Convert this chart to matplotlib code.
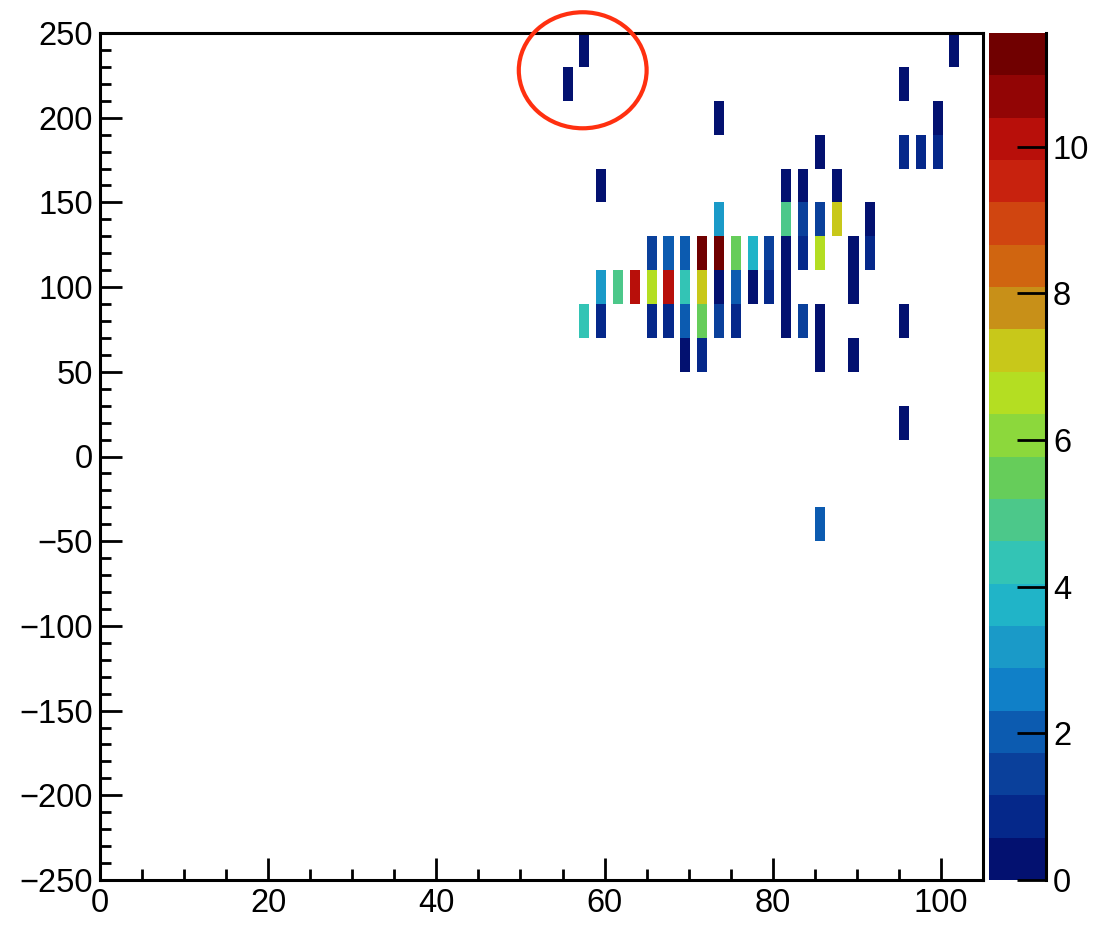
import numpy as np
import matplotlib
matplotlib.use("Agg")
import matplotlib.pyplot as plt
from matplotlib.colors import ListedColormap, BoundaryNorm
from matplotlib.patches import Ellipse
import matplotlib.cm as cm

plt.rcParams['font.family'] = ['Liberation Sans', 'DejaVu Sans']

# ---- data: (bin left x, bin low y, content) ----
x_left = [55, 57, 57, 59, 59, 59, 61, 63,
          65, 65, 65, 67, 67, 67, 69, 69, 69, 69,
          71, 71, 71, 71, 73, 73, 73, 73, 73,
          75, 75, 75, 77, 77, 79, 79,
          81, 81, 81, 81, 81, 83, 83, 83, 83,
          85, 85, 85, 85, 85, 85, 87, 87,
          89, 89, 89, 91, 91,
          95, 95, 95, 95, 97, 99, 99, 101]
y_low = [210, 230, 70, 150, 90, 70, 90, 90,
         110, 90, 70, 110, 90, 70, 110, 90, 70, 50,
         110, 90, 70, 50, 190, 130, 110, 90, 70,
         110, 90, 70, 110, 90, 110, 90,
         150, 130, 110, 90, 70, 150, 130, 110, 70,
         170, 130, 110, 70, 50, -50, 150, 130,
         110, 90, 50, 130, 110,
         210, 170, 70, 10, 170, 190, 170, 230]
content = [0.4, 0.4, 4.3, 0.4, 3.2, 1.0, 4.9, 10.1,
           1.5, 6.6, 1.0, 2.0, 10.1, 1.0, 2.0, 4.3, 2.0, 0.4,
           11.2, 7.2, 5.5, 1.0, 0.4, 3.2, 11.2, 0.4, 1.5,
           5.5, 2.0, 1.0, 3.8, 0.4, 1.5, 1.0,
           0.4, 4.9, 0.4, 0.4, 0.4, 0.4, 1.5, 1.0, 1.5,
           0.4, 1.5, 6.6, 0.4, 0.4, 2.0, 0.4, 7.2,
           0.4, 0.4, 0.4, 0.4, 1.0,
           0.4, 1.0, 0.4, 0.4, 1.0, 0.4, 1.0, 0.4]

palette = ['#031170', '#05288a', '#0a409b', '#0c5bb0', '#1080c8',
           '#1a9ac8', '#20b4c8', '#33c4b5', '#4cc88a', '#66cd5a',
           '#8cd83c', '#b4de22', '#c8c81a', '#c89018', '#d06510',
           '#d04510', '#c8220e', '#b80f0a', '#920505', '#700000']
z_max = 11.55
x_range = (0, 105)
y_range = (-250, 250)
bin_w = 1.2
bin_h = 20

cmap = ListedColormap(palette)
norm = BoundaryNorm(np.linspace(0, z_max, len(palette) + 1), len(palette))

fig = plt.figure(figsize=(10.99, 9.32), dpi=100)
ax = fig.add_axes([100 / 1099, 52 / 932, 883 / 1099, 847 / 932])
cax = fig.add_axes([989 / 1099, 52 / 932, 57 / 1099, 847 / 932])

colors = [cmap(norm(v)) for v in content]
ax.bar(x_left, bin_h, width=bin_w, bottom=y_low, align='edge',
       color=colors, linewidth=0)

ax.set_xlim(*x_range)
ax.set_ylim(*y_range)
ax.set_xticks(np.arange(0, 101, 20))
ax.set_xticks(np.arange(0, 106, 5), minor=True)
ax.set_yticks(np.arange(-250, 251, 50))
ax.set_yticks(np.arange(-250, 251, 10), minor=True)
ax.tick_params(which='both', direction='in', top=False, right=False,
               labelsize=23.5, width=2, color='black')
ax.tick_params(which='major', length=16)
ax.tick_params(which='minor', length=8)
ax.tick_params(axis='x', pad=6)
ax.tick_params(axis='y', pad=5)
for s in ax.spines.values():
    s.set_linewidth(2.2)

ell = Ellipse((57.4, 228), 15.2, 68.5, fill=False, ec='#ff3010', lw=3,
              clip_on=False, zorder=5)
ax.add_patch(ell)

sm = cm.ScalarMappable(norm=norm, cmap=cmap)
cb = fig.colorbar(sm, cax=cax, ticks=[0, 2, 4, 6, 8, 10])
cb.outline.set_visible(False)
cax.plot([1, 1], [0, 1], transform=cax.transAxes, color='black', lw=2.2,
         clip_on=False)
cax.tick_params(direction='in', length=21, width=2, labelsize=23.5, pad=5)
cax.minorticks_off()

fig.savefig('out.png', dpi=100, facecolor='white')
